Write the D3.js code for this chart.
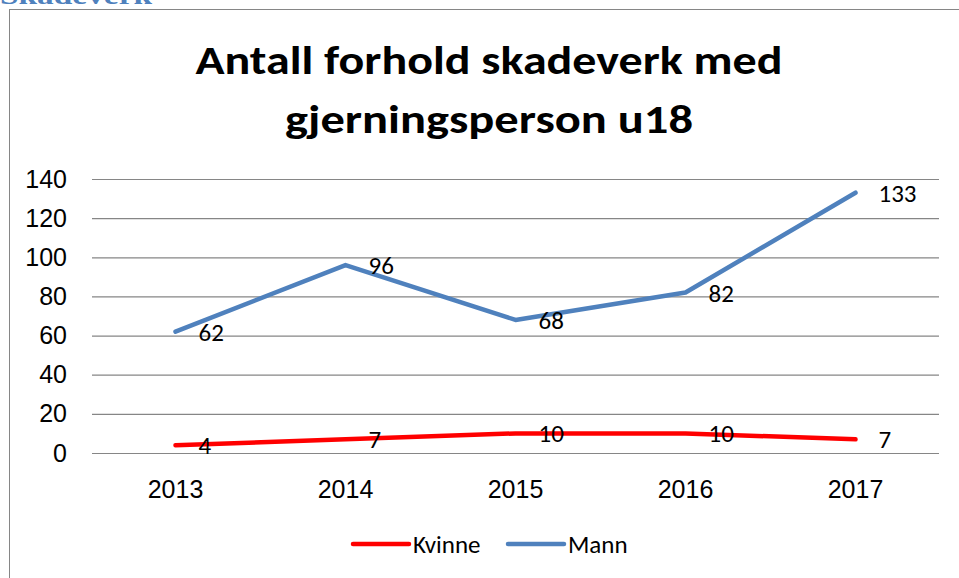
<!DOCTYPE html>
<html>
<head>
<meta charset="utf-8">
<script src="https://cdn.jsdelivr.net/npm/d3@7"></script>
<style>
  body { margin: 0; background: #fff; }
  svg { display: block; font-family: Carlito, Calibri, 'Liberation Sans', sans-serif; }
  .axis .domain { display: none; }
  .axis text { font-size: 25px; fill: #000; }
</style>
</head>
<body>
<svg id="chart"></svg>
<script>
// chart data
const years = ['2013', '2014', '2015', '2016', '2017'];
const kvinne = [4, 7, 10, 10, 7];
const mann = [62, 96, 68, 82, 133];
const yTicks = [0, 20, 40, 60, 80, 100, 120, 140];
const seriesNames = ['Kvinne', 'Mann'];
const titleLines = ['Antall forhold skadeverk med', 'gjerningsperson u18'];

const colors = { Kvinne: '#ff0000', Mann: '#4f81bd' };
const series = [
  { name: 'Kvinne', values: kvinne },
  { name: 'Mann', values: mann },
];

const width = 959;
const height = 578;
const plot = { left: 92, right: 939, top: 179, bottom: 453 };

const svg = d3.select('#chart')
  .attr('width', width)
  .attr('height', height);

// heading from the page above, cut off at the top
svg.append('text')
  .attr('x', 0)
  .attr('y', 4)
  .attr('font-family', "'Liberation Serif', serif")
  .attr('font-weight', 'bold')
  .attr('font-size', 26)
  .attr('fill', '#4f81bd')
  .attr('textLength', 152)
  .attr('lengthAdjust', 'spacingAndGlyphs')
  .text('Skadeverk');

// chart frame
svg.append('rect')
  .attr('x', 9.5)
  .attr('y', 9.5)
  .attr('width', 1000)
  .attr('height', 1000)
  .attr('fill', 'none')
  .attr('stroke', '#868686')
  .attr('stroke-width', 1);

// title
const titleWidths = [587, 408];
const titleBaselines = [74, 133];
titleLines.forEach((t, i) => {
  svg.append('text')
    .attr('x', 489)
    .attr('y', titleBaselines[i])
    .attr('text-anchor', 'middle')
    .attr('font-weight', 'bold')
    .attr('font-size', 41)
    .attr('textLength', titleWidths[i])
    .attr('lengthAdjust', 'spacingAndGlyphs')
    .text(t);
});

// scales
const xScale = d3.scaleBand()
  .domain(years)
  .range([90.5, 940.5])
  .padding(0);
const xPos = (d) => xScale(d) + xScale.bandwidth() / 2;

const yScale = d3.scaleLinear()
  .domain([0, 140])
  .range([plot.bottom, plot.top]);

// y axis with gridlines
const yAxis = d3.axisLeft(yScale)
  .tickValues(yTicks)
  .tickSize(-(plot.right - plot.left))
  .tickPadding(25)
  .tickFormat((d) => d);

svg.append('g')
  .attr('class', 'axis y-axis')
  .attr('transform', `translate(${plot.left},0)`)
  .call(yAxis)
  .call((g) => g.selectAll('.tick line')
    .attr('stroke', '#868686')
    .attr('stroke-width', 1.2));

// x axis labels only
const xAxis = d3.axisBottom(xScale)
  .tickSize(0)
  .tickPadding(27);

svg.append('g')
  .attr('class', 'axis x-axis')
  .attr('transform', `translate(0,${plot.bottom})`)
  .call(xAxis);

// lines
const line = d3.line()
  .x((d, i) => xPos(years[i]))
  .y((d) => yScale(d));

const marks = svg.append('g');
marks.selectAll('.series-line')
  .data(series)
  .join('path')
  .attr('class', 'series-line')
  .attr('fill', 'none')
  .attr('stroke', (d) => colors[d.name])
  .attr('stroke-width', 4.5)
  .attr('stroke-linejoin', 'round')
  .attr('stroke-linecap', 'round')
  .attr('d', (d) => line(d.values));

// data labels, to the right of each point
series.forEach((s) => {
  marks.selectAll(`.label-${s.name}`)
    .data(s.values)
    .join('text')
    .attr('class', `label-${s.name}`)
    .attr('x', (d, i) => xPos(years[i]) + 23)
    .attr('y', (d) => yScale(d))
    .attr('dy', '0.36em')
    .attr('font-size', 25)
    .text((d) => d);
});

// legend
const legendX = [353, 508];
const legend = svg.append('g');
seriesNames.forEach((name, i) => {
  legend.append('line')
    .attr('x1', legendX[i])
    .attr('x2', legendX[i] + 56)
    .attr('y1', 544)
    .attr('y2', 544)
    .attr('stroke', colors[name])
    .attr('stroke-width', 4.5)
    .attr('stroke-linecap', 'round');
  legend.append('text')
    .attr('x', legendX[i] + 60)
    .attr('y', 544)
    .attr('dy', '0.36em')
    .attr('font-size', 25)
    .text(name);
});
</script>
</body>
</html>
